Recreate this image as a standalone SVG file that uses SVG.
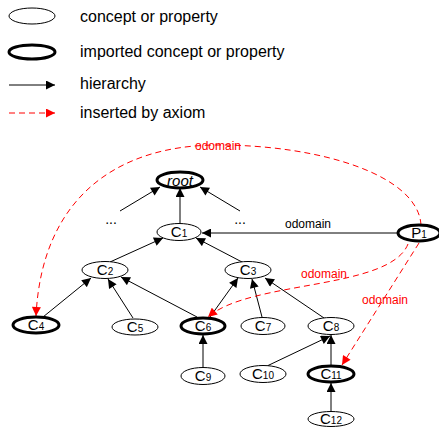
<svg xmlns="http://www.w3.org/2000/svg" width="439" height="427" viewBox="0 0 439 427">
<defs>
<marker id="ah" viewBox="0 0 10 10" refX="10" refY="5" markerWidth="10" markerHeight="9" markerUnits="userSpaceOnUse" orient="auto">
<path d="M0,0 L10,5 L0,10 Z" fill="#000"/>
</marker>
<marker id="ahr" viewBox="0 0 10 10" refX="10" refY="5" markerWidth="10" markerHeight="9" markerUnits="userSpaceOnUse" orient="auto">
<path d="M0,0 L10,5 L0,10 Z" fill="#ff0000"/>
</marker>
</defs>
<style>
.n{fill:#fff;stroke:#000;stroke-width:1}
.t{fill:#fff;stroke:#000;stroke-width:3}
.lb{font-family:"Liberation Sans",Arial,sans-serif;font-size:15px;fill:#000;text-anchor:middle}
.sub{font-size:10px}
.leg{font-family:"Liberation Sans",Arial,sans-serif;font-size:16px;fill:#000}
.e{stroke:#000;stroke-width:1;fill:none;marker-end:url(#ah)}
.r{stroke:#ff0000;stroke-width:1;fill:none;stroke-dasharray:6,4;marker-end:url(#ahr)}
.rl{font-family:"Liberation Sans",Arial,sans-serif;font-size:12px;fill:#ff0000;text-anchor:middle}
.bl{font-family:"Liberation Sans",Arial,sans-serif;font-size:12px;fill:#000;text-anchor:middle}
.dots{font-family:"Liberation Sans",Arial,sans-serif;font-size:14px;fill:#000;text-anchor:middle}
</style>
<g id="legend">
<ellipse class="n" cx="32" cy="16" rx="23" ry="8"/>
<text class="leg" x="80" y="22">concept or property</text>
<ellipse class="t" cx="32" cy="52" rx="23" ry="7"/>
<text class="leg" x="80" y="57">imported concept or property</text>
<line class="e" x1="9" y1="85" x2="55" y2="85"/>
<text class="leg" x="80" y="89">hierarchy</text>
<line class="r" x1="9" y1="113" x2="55" y2="113"/>
<text class="leg" x="80" y="118">inserted by axiom</text>
</g>
<g id="connectors">
<line class="e" x1="180" y1="223" x2="180" y2="188"/>
<line class="e" x1="120" y1="211" x2="160" y2="187"/>
<line class="e" x1="240" y1="211" x2="200" y2="187"/>
<line class="e" x1="398" y1="233" x2="202" y2="233"/>
<text class="bl" x="308" y="228">odomain</text>
<line class="e" x1="110" y1="262" x2="163" y2="238"/>
<line class="e" x1="242" y1="262" x2="196" y2="238"/>
<line class="e" x1="43" y1="317" x2="91" y2="278"/>
<line class="e" x1="133" y1="318" x2="108" y2="279"/>
<line class="e" x1="197" y1="317" x2="121" y2="277"/>
<line class="e" x1="210" y1="317" x2="238" y2="278"/>
<line class="e" x1="262" y1="317" x2="252" y2="279"/>
<line class="e" x1="324" y1="318" x2="265" y2="278"/>
<line class="e" x1="203" y1="367" x2="203" y2="335"/>
<line class="e" x1="267" y1="366" x2="330" y2="336"/>
<line class="e" x1="331" y1="365" x2="331" y2="335"/>
<line class="e" x1="331" y1="411" x2="331" y2="383"/>
<path class="r" d="M421,225 C418,175 320,145 218,145 C120,145 42,195 36,316"/>
<path class="r" d="M408,244 C390,290 250,280 208,317"/>
<path class="r" d="M419,243 L342,365"/>
<text class="rl" x="218" y="150">odomain</text>
<text class="rl" x="324" y="278">odomain</text>
<text class="rl" x="385" y="304">odomain</text>
<text class="dots" x="111" y="224">...</text>
<text class="dots" x="240" y="224">...</text>
</g>
<g id="root"><ellipse class="t" cx="180" cy="180" rx="23" ry="8"/><text class="lb" x="180" y="186" font-size="17" font-style="italic">root</text></g>
<g id="C1"><ellipse class="n" cx="179" cy="232" rx="22" ry="8.5"/><text class="lb" x="179" y="237">C<tspan class="sub">1</tspan></text></g>
<g id="P1"><ellipse class="t" cx="419" cy="233" rx="21" ry="8"/><text class="lb" x="419" y="238">P<tspan class="sub">1</tspan></text></g>
<g id="C2"><ellipse class="n" cx="105" cy="270" rx="23" ry="8.5"/><text class="lb" x="105" y="275">C<tspan class="sub">2</tspan></text></g>
<g id="C3"><ellipse class="n" cx="248" cy="270" rx="23" ry="8.5"/><text class="lb" x="248" y="275">C<tspan class="sub">3</tspan></text></g>
<g id="C4"><ellipse class="t" cx="36" cy="325" rx="23" ry="8"/><text class="lb" x="36" y="330">C<tspan class="sub">4</tspan></text></g>
<g id="C5"><ellipse class="n" cx="135" cy="327" rx="23" ry="8"/><text class="lb" x="135" y="332">C<tspan class="sub">5</tspan></text></g>
<g id="C6"><ellipse class="t" cx="203" cy="326" rx="22" ry="8"/><text class="lb" x="203" y="331">C<tspan class="sub">6</tspan></text></g>
<g id="C7"><ellipse class="n" cx="263" cy="326" rx="22" ry="8.5"/><text class="lb" x="263" y="331">C<tspan class="sub">7</tspan></text></g>
<g id="C8"><ellipse class="n" cx="331" cy="326" rx="23" ry="8.5"/><text class="lb" x="331" y="331">C<tspan class="sub">8</tspan></text></g>
<g id="C9"><ellipse class="n" cx="203" cy="376" rx="22" ry="8.5"/><text class="lb" x="203" y="381">C<tspan class="sub">9</tspan></text></g>
<g id="C10"><ellipse class="n" cx="263" cy="374" rx="23" ry="8.5"/><text class="lb" x="263" y="379">C<tspan class="sub">10</tspan></text></g>
<g id="C11"><ellipse class="t" cx="331" cy="374" rx="23" ry="8"/><text class="lb" x="331" y="379">C<tspan class="sub">11</tspan></text></g>
<g id="C12"><ellipse class="n" cx="331" cy="419" rx="23" ry="7.5"/><text class="lb" x="331" y="424">C<tspan class="sub">12</tspan></text></g>
</svg>
